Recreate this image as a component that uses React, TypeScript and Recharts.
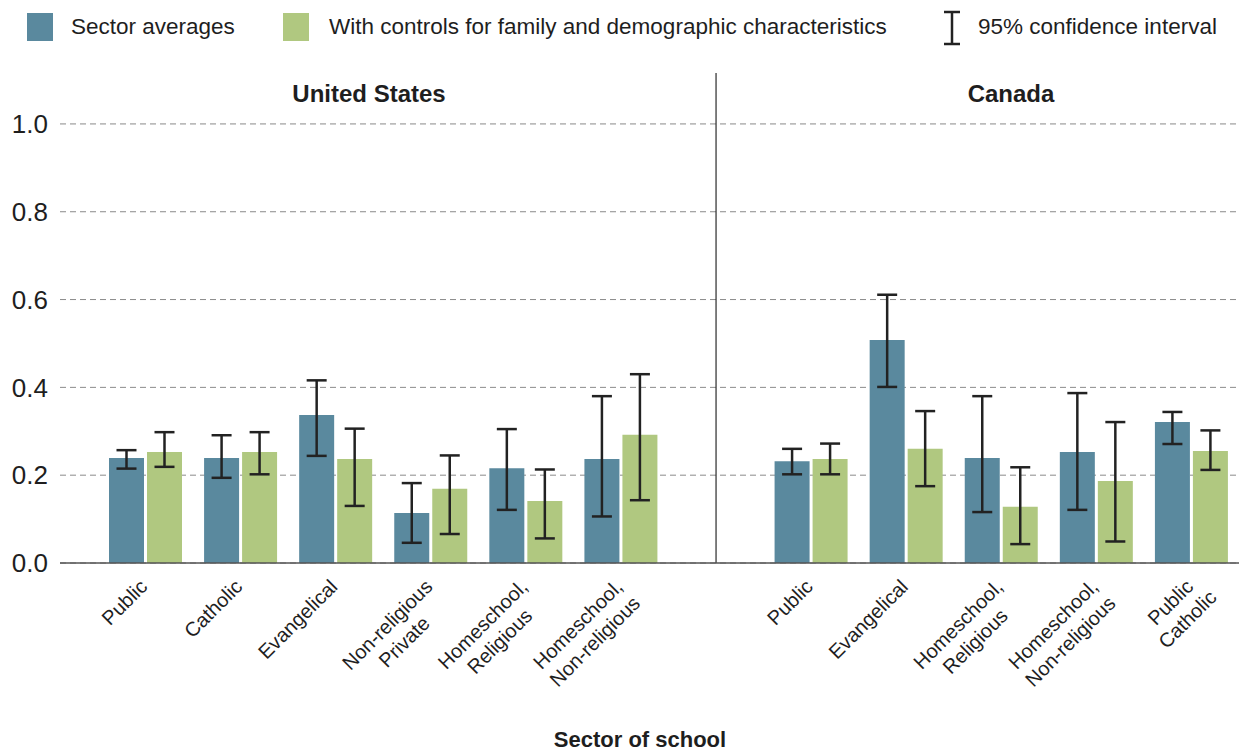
import {
  BarChart,
  Bar,
  CartesianGrid,
  ErrorBar,
  ReferenceLine,
  XAxis,
  YAxis,
} from "recharts";

// United States
const usCategories = [
  "Public",
  "Catholic",
  "Evangelical",
  "Non-religious\nPrivate",
  "Homeschool,\nReligious",
  "Homeschool,\nNon-religious",
];
const usAvg = [0.239, 0.239, 0.337, 0.114, 0.216, 0.237];
const usAvgLow = [0.215, 0.194, 0.244, 0.046, 0.121, 0.106];
const usAvgHigh = [0.257, 0.291, 0.416, 0.182, 0.305, 0.38];
const usCtrl = [0.253, 0.253, 0.237, 0.169, 0.141, 0.292];
const usCtrlLow = [0.219, 0.202, 0.13, 0.066, 0.056, 0.143];
const usCtrlHigh = [0.298, 0.298, 0.306, 0.245, 0.213, 0.43];

// Canada
const caCategories = [
  "Public",
  "Evangelical",
  "Homeschool,\nReligious",
  "Homeschool,\nNon-religious",
  "Public\nCatholic",
];
const caAvg = [0.232, 0.508, 0.239, 0.253, 0.321];
const caAvgLow = [0.202, 0.401, 0.116, 0.121, 0.271];
const caAvgHigh = [0.26, 0.611, 0.38, 0.387, 0.344];
const caCtrl = [0.237, 0.26, 0.128, 0.187, 0.255];
const caCtrlLow = [0.202, 0.175, 0.043, 0.049, 0.212];
const caCtrlHigh = [0.272, 0.346, 0.218, 0.321, 0.302];

const yTicks = [0, 0.2, 0.4, 0.6, 0.8, 1.0];
const yMax = 1.116; // leaves room above 1.0 for the panel titles

const BLUE = "#5a899e";
const GREEN = "#b0c880";
const INK = "#1e1e1e";
const FONT = "'Liberation Sans', Arial, sans-serif";

type Row = {
  id: string;
  label: string;
  avg: number | null;
  ctrl: number | null;
  avgErr: [number, number] | null;
  ctrlErr: [number, number] | null;
};

function buildRows(
  prefix: string,
  cats: string[],
  avg: number[],
  avgLow: number[],
  avgHigh: number[],
  ctrl: number[],
  ctrlLow: number[],
  ctrlHigh: number[]
): Row[] {
  return cats.map((label, i) => ({
    id: `${prefix}-${i}`,
    label,
    avg: avg[i],
    ctrl: ctrl[i],
    avgErr: [avg[i] - avgLow[i], avgHigh[i] - avg[i]],
    ctrlErr: [ctrl[i] - ctrlLow[i], ctrlHigh[i] - ctrl[i]],
  }));
}

const rows: Row[] = [
  ...buildRows("us", usCategories, usAvg, usAvgLow, usAvgHigh, usCtrl, usCtrlLow, usCtrlHigh),
  { id: "gap", label: "", avg: null, ctrl: null, avgErr: null, ctrlErr: null },
  ...buildRows("ca", caCategories, caAvg, caAvgLow, caAvgHigh, caCtrl, caCtrlLow, caCtrlHigh),
];
const rowById: Record<string, Row> = Object.fromEntries(rows.map((r) => [r.id, r]));

let measureCtx: CanvasRenderingContext2D | null = null;
function textWidth(s: string) {
  if (!measureCtx) {
    measureCtx = document.createElement("canvas").getContext("2d");
  }
  if (!measureCtx) return s.length * 10;
  measureCtx.font = `20px ${FONT}`;
  return measureCtx.measureText(s).width;
}

function SectorTick(props: any) {
  const { x, y, payload } = props;
  const row = rowById[payload.value];
  if (!row || !row.label) return null;
  const lines = row.label.split("\n");
  const w = textWidth(lines[0]);
  return (
    <g transform={`translate(${x + 3},${y + 25}) rotate(-45)`}>
      {lines.map((line, i) => (
        <text
          key={i}
          x={-w / 2}
          y={i * 24}
          textAnchor="middle"
          fontSize={20}
          fontFamily={FONT}
          fill={INK}
        >
          {line}
        </text>
      ))}
    </g>
  );
}

export default function App() {
  return (
    <div style={{ position: "absolute", left: 0, top: 0, width: 1239, height: 752, background: "#fff" }}>
      <BarChart
        width={1239}
        height={752}
        data={rows}
        margin={{ top: 73, right: 0, bottom: 39, left: 0 }}
        barSize={35}
        barGap={3}
      >
        <CartesianGrid
          vertical={false}
          horizontalValues={yTicks}
          stroke="#8a8a8a"
          strokeDasharray="6 4"
        />
        <XAxis
          dataKey="id"
          interval={0}
          height={150}
          padding={{ left: 38, right: 0 }}
          tickLine={false}
          tickSize={0}
          tickMargin={0}
          axisLine={{ stroke: "#555", strokeWidth: 1.5 }}
          tick={<SectorTick />}
        />
        <YAxis
          width={60}
          domain={[0, yMax]}
          ticks={yTicks}
          allowDataOverflow
          axisLine={false}
          tickLine={false}
          tickSize={0}
          tickMargin={12}
          tickFormatter={(v: number) => v.toFixed(1)}
          tick={{ fontSize: 26, fill: INK, fontFamily: FONT }}
        />
        <ReferenceLine x="gap" stroke="#2a2a2a" strokeWidth={1.2} />
        <Bar dataKey="avg" fill={BLUE} isAnimationActive={false}>
          <ErrorBar dataKey="avgErr" width={10} strokeWidth={2.5} stroke="#222" direction="y" isAnimationActive={false} />
        </Bar>
        <Bar dataKey="ctrl" fill={GREEN} isAnimationActive={false}>
          <ErrorBar dataKey="ctrlErr" width={10} strokeWidth={2.5} stroke="#222" direction="y" isAnimationActive={false} />
        </Bar>
      </BarChart>
      <svg
        width={1239}
        height={752}
        style={{ position: "absolute", left: 0, top: 0, pointerEvents: "none" }}
        fontFamily={FONT}
      >
        {/* legend */}
        <rect x={27} y={13} width={26} height={28} fill={BLUE} />
        <text x={71} y={34} fontSize={22.5} fill={INK}>Sector averages</text>
        <rect x={283} y={13} width={26} height={28} fill={GREEN} />
        <text x={329} y={34} fontSize={22.5} fill={INK}>
          With controls for family and demographic characteristics
        </text>
        <g stroke="#222" strokeWidth={2.5}>
          <line x1={952} y1={12} x2={952} y2={44} />
          <line x1={944} y1={12} x2={960} y2={12} />
          <line x1={944} y1={44} x2={960} y2={44} />
        </g>
        <text x={978} y={34} fontSize={22.5} fill={INK}>95% confidence interval</text>
        {/* panel titles */}
        <text x={369} y={102} textAnchor="middle" fontSize={24} fontWeight="bold" fill={INK}>
          United States
        </text>
        <text x={1011} y={102} textAnchor="middle" fontSize={24} fontWeight="bold" fill={INK}>
          Canada
        </text>
        <text x={640} y={747} textAnchor="middle" fontSize={22} fontWeight="bold" fill={INK}>
          Sector of school
        </text>
      </svg>
    </div>
  );
}
